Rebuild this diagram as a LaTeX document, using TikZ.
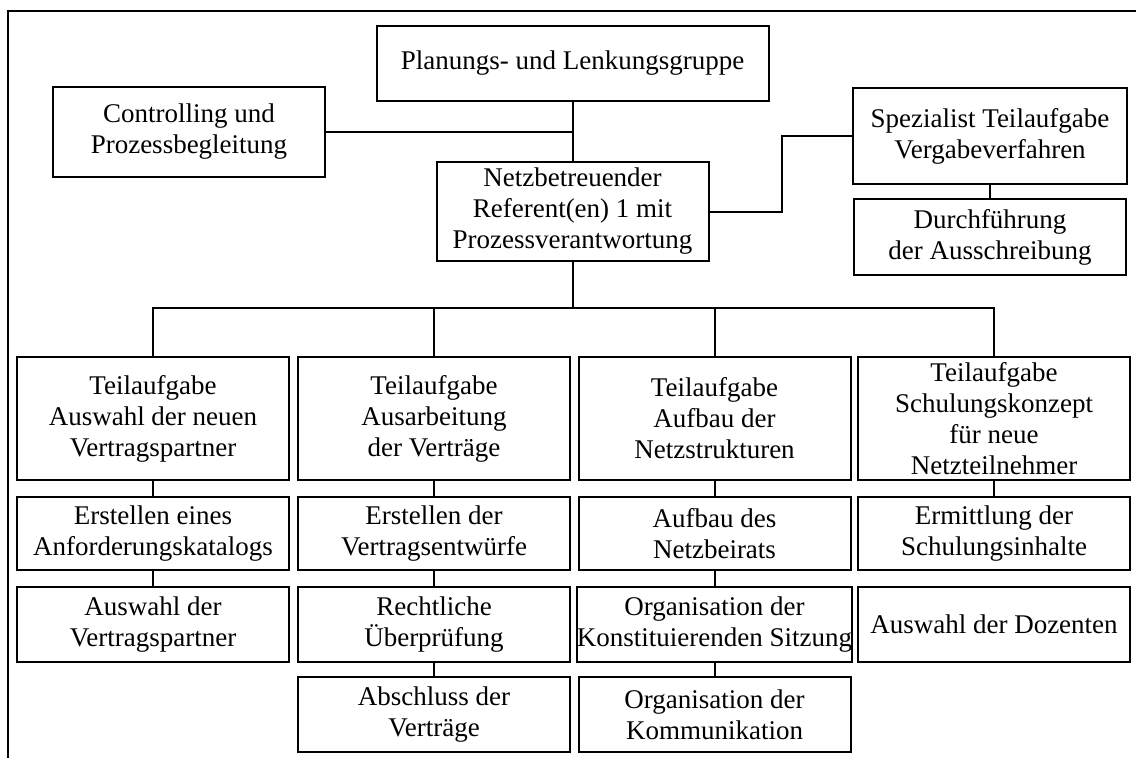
\documentclass[tikz,border=0pt]{standalone}
\usepackage{fontspec}
\setmainfont{Liberation Serif}
\begin{document}
\begin{tikzpicture}[x=1pt,y=-1pt,
  box/.style={draw, line width=2pt, inner sep=0pt, minimum width=272pt, align=center,
    font=\fontsize{27}{31}\selectfont},
  link/.style={line width=2pt},
  frame/.style={line width=2pt}]
\useasboundingbox (0,0) rectangle (1136,758);
% outer frame (top and left)
\draw[frame] (7.5,758) -- (7.5,11) -- (1136,11);

% top part
\node[box, minimum width=392pt, minimum height=75pt] (plan) at (572.5,63.5) {Planungs- und Lenkungsgruppe};
\node[box, minimum height=90pt] (ctrl) at (189,132) {Controlling und\\Prozessbegleitung};
\node[box, minimum height=99pt] (netz) at (572.5,211.5) {Netzbetreuender\\Referent(en) 1 mit\\Prozessverantwortung};
\node[box, minimum width=274pt, minimum height=96pt] (spez) at (990,136) {Spezialist Teilaufgabe\\Vergabeverfahren};
\node[box, minimum height=76pt] (durch) at (990,237) {Durchführung\\der Ausschreibung};

% row 1
\node[box, minimum height=123pt] (t1) at (153,418.5) {Teilaufgabe\\Auswahl der neuen\\Vertragspartner};
\node[box, minimum height=123pt] (t2) at (434,418.5) {Teilaufgabe\\Ausarbeitung\\der Verträge};
\node[box, minimum height=123pt] (t3) at (714.5,418.5) {Teilaufgabe\\Aufbau der\\Netzstrukturen};
\node[box, minimum height=123pt] (t4) at (994,418.5) {Teilaufgabe\\Schulungskonzept\\für neue\\Netzteilnehmer};

% row 2
\node[box, minimum height=73pt] (a2) at (153,533.5) {Erstellen eines\\Anforderungskatalogs};
\node[box, minimum height=73pt] (b2) at (434,533.5) {Erstellen der\\Vertragsentwürfe};
\node[box, minimum height=73pt] (c2) at (714.5,533.5) {Aufbau des\\Netzbeirats};
\node[box, minimum height=73pt] (d2) at (994,533.5) {Ermittlung der\\Schulungsinhalte};

% row 3
\node[box, minimum height=75pt] (a3) at (153,624.5) {Auswahl der\\Vertragspartner};
\node[box, minimum height=75pt] (b3) at (434,624.5) {Rechtliche\\Überprüfung};
\node[box, minimum height=75pt] (c3) at (714.5,624.5) {Organisation der\\Konstituierenden Sitzung};
\node[box, minimum height=75pt] (d3) at (994,624.5) {Auswahl der Dozenten};

% row 4
\node[box, minimum height=75pt] (b4) at (434,714.5) {Abschluss der\\Verträge};
\node[box, minimum height=75pt] (c4) at (714.5,714.5) {Organisation der\\Kommunikation};

% connectors
\coordinate (bus) at (0,308);
\draw[link] (plan.south) -- (netz.north);
\draw[link] (ctrl.east) -- (ctrl.east -| plan.south);
\draw[link] (netz.east) -- ++(72,0) |- (spez.west);
\draw[link] (spez.south) -- (durch.north);
\draw[link] (netz.south) -- (netz.south |- bus);
\draw[link] (t1.north) |- (t4.north |- bus) -- (t4.north);
\draw[link] (t2.north) -- (t2.north |- bus);
\draw[link] (t3.north) -- (t3.north |- bus);

\draw[link] (t1.south) -- (a2.north);
\draw[link] (a2.south) -- (a3.north);
\draw[link] (t2.south) -- (b2.north);
\draw[link] (b2.south) -- (b3.north);
\draw[link] (b3.south) -- (b4.north);
\draw[link] (t3.south) -- (c2.north);
\draw[link] (c2.south) -- (c3.north);
\draw[link] (c3.south) -- (c4.north);
\draw[link] (t4.south) -- (d2.north);
\end{tikzpicture}
\end{document}
